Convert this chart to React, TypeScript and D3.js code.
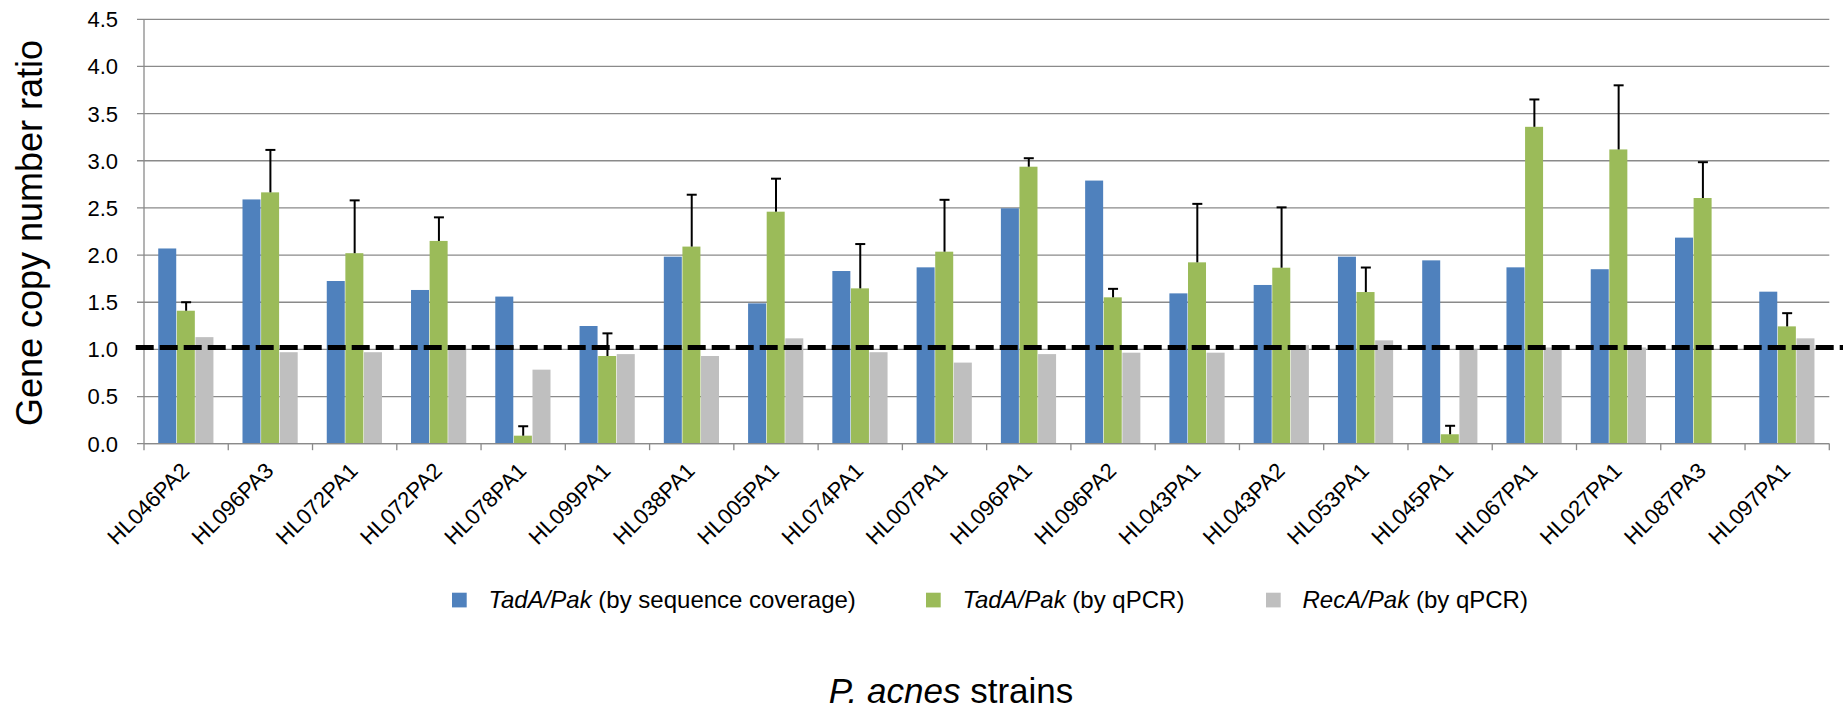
import React from "react";
import * as d3 from "d3";

const strains = [
  "HL046PA2", "HL096PA3", "HL072PA1", "HL072PA2", "HL078PA1", "HL099PA1", "HL038PA1",
  "HL005PA1", "HL074PA1", "HL007PA1", "HL096PA1", "HL096PA2", "HL043PA1", "HL043PA2",
  "HL053PA1", "HL045PA1", "HL067PA1", "HL027PA1", "HL087PA3", "HL097PA1",
];
const tadASeqCoverage = [2.07, 2.59, 1.725, 1.63, 1.56, 1.248, 1.983, 1.488, 1.831, 1.87, 2.496, 2.79, 1.594, 1.683, 1.983, 1.944, 1.87, 1.85, 2.185, 1.612];
const tadAQpcr = [1.41, 2.665, 2.02, 2.15, 0.085, 0.93, 2.09, 2.46, 1.647, 2.036, 2.937, 1.552, 1.923, 1.866, 1.608, 0.1, 3.36, 3.12, 2.605, 1.244];
const tadAQpcrErr = [0.09, 0.45, 0.56, 0.25, 0.1, 0.24, 0.55, 0.35, 0.47, 0.55, 0.09, 0.09, 0.62, 0.64, 0.26, 0.09, 0.29, 0.68, 0.38, 0.14];
const recAQpcr: (number | null)[] = [1.13, 0.97, 0.97, 1.04, 0.785, 0.95, 0.93, 1.117, 0.97, 0.86, 0.95, 0.965, 0.965, 1.046, 1.096, 1.0, 1.02, 1.02, null, 1.117];
const yTicks = [0, 0.5, 1, 1.5, 2, 2.5, 3, 3.5, 4, 4.5];
const referenceLine = 1.02;

const seriesKeys = ["seq", "tadq", "recq"];
const seriesColors: Record<string, string> = { seq: "#4F81BD", tadq: "#9BBB59", recq: "#BFBFBF" };
const legendItems = [
  { key: "seq", italic: "TadA/Pak", rest: " (by sequence coverage)" },
  { key: "tadq", italic: "TadA/Pak", rest: " (by qPCR)" },
  { key: "recq", italic: "RecA/Pak", rest: " (by qPCR)" },
];

const W = 1843;
const H = 710;
const left = 144;
const right = 1829.3;
const top = 19.3;
const bottom = 443.7;
const FONT = "'Liberation Sans', Arial, Helvetica, sans-serif";
const gridColor = "#8A8A8A";

export default function App() {
  const x = d3.scaleBand<string>().domain(strains).range([left, right]).padding(0);
  const inner = d3.scaleBand<string>().domain(seriesKeys).range([0, x.bandwidth()]).paddingInner(0).paddingOuter(0.765);
  const y = d3.scaleLinear().domain([0, 4.5]).range([bottom, top]);
  const bw = inner.bandwidth();

  const values: Record<string, (number | null)[]> = { seq: tadASeqCoverage, tadq: tadAQpcr, recq: recAQpcr };
  const legendX = [452, 926, 1266];

  return (
    <svg width={W} height={H} style={{ position: "fixed", left: 0, top: 0, background: "#fff" }} fontFamily={FONT}>
      <rect x={0} y={0} width={W} height={H} fill="#fff" />
      {yTicks.map((t) => (
        <line key={"g" + t} x1={left - 7} x2={right} y1={y(t)} y2={y(t)} stroke={gridColor} strokeWidth={1.3} />
      ))}
      <line x1={left} x2={left} y1={top} y2={bottom} stroke={gridColor} strokeWidth={1.3} />
      {strains.map((s) => (
        <line key={"t" + s} x1={x(s)!} x2={x(s)!} y1={bottom} y2={bottom + 6.5} stroke={gridColor} strokeWidth={1.3} />
      ))}
      <line x1={right} x2={right} y1={bottom} y2={bottom + 6.5} stroke={gridColor} strokeWidth={1.3} />
      {yTicks.map((t) => (
        <text key={"l" + t} x={left - 26} y={y(t)} dy="0.36em" textAnchor="end" fontSize={22} fill="#000">
          {d3.format(".1f")(t)}
        </text>
      ))}
      {strains.map((s, i) => (
        <g key={"b" + s}>
          {seriesKeys.map((k) => {
            const v = values[k][i];
            if (v == null) return null;
            return (
              <rect
                key={k}
                x={x(s)! + inner(k)!}
                y={y(v)}
                width={bw - 0.6}
                height={y(0) - y(v)}
                fill={seriesColors[k]}
              />
            );
          })}
        </g>
      ))}
      <line x1={left} x2={right} y1={bottom} y2={bottom} stroke={gridColor} strokeWidth={1.3} />
      {strains.map((s, i) => {
        const cx = x(s)! + inner("tadq")! + bw / 2;
        const y0 = y(tadAQpcr[i]);
        const y1 = y(tadAQpcr[i] + tadAQpcrErr[i]);
        return (
          <g key={"e" + s} stroke="#000" strokeWidth={2}>
            <line x1={cx} x2={cx} y1={y0} y2={y1} />
            <line x1={cx - 5} x2={cx + 5} y1={y1} y2={y1} />
          </g>
        );
      })}
      <line x1={135.7} x2={W} y1={y(referenceLine)} y2={y(referenceLine)} stroke="#000" strokeWidth={5} strokeDasharray="18 6" />
      {strains.map((s) => {
        const cx = x(s)! + x.bandwidth() / 2 + 4.5;
        const cy = 472;
        return (
          <text key={"x" + s} x={cx} y={cy} textAnchor="end" fontSize={22} transform={`rotate(-45 ${cx} ${cy})`} fill="#000">
            {s}
          </text>
        );
      })}
      <text x={0} y={0} transform={`translate(42 ${(top + bottom) / 2 + 1.5}) rotate(-90)`} textAnchor="middle" fontSize={36} fill="#000">
        Gene copy number ratio
      </text>
      <text x={951} y={703} textAnchor="middle" fontSize={35} fill="#000">
        <tspan fontStyle="italic">P. acnes</tspan> strains
      </text>
      {legendItems.map((it, i) => (
        <g key={"lg" + it.key}>
          <rect x={legendX[i]} y={592.7} width={14.7} height={14.7} fill={seriesColors[it.key]} />
          <text x={legendX[i] + 36.5} y={608} fontSize={24} fill="#000">
            <tspan fontStyle="italic">{it.italic}</tspan>
            {it.rest}
          </text>
        </g>
      ))}
    </svg>
  );
}
